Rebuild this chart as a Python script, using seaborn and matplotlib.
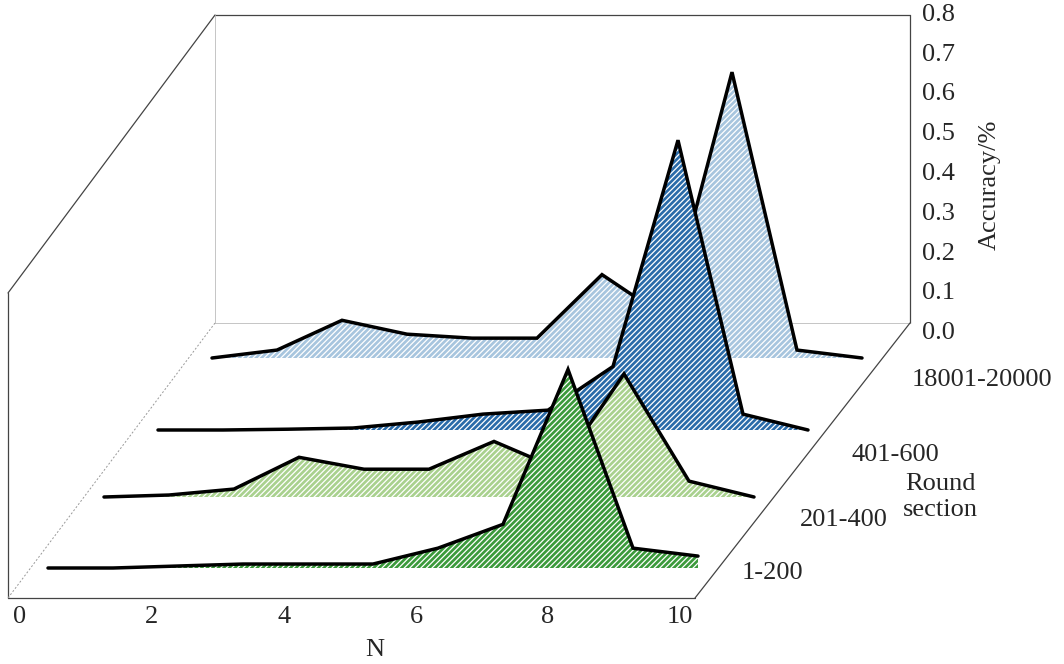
import matplotlib
matplotlib.use("Agg")
import matplotlib.pyplot as plt
import matplotlib.transforms as mtrans
import seaborn as sns
import numpy as np

sns.set_theme(style="white")
plt.rcParams['font.family'] = ['Liberation Serif', 'DejaVu Serif']
plt.rcParams['hatch.linewidth'] = 0.9

N = [0, 1, 2, 3, 4, 5, 6, 7, 8, 9, 10]
sections = ["18001-20000", "401-600", "201-400", "1-200"]
acc_18001 = [0, 0.02, 0.095, 0.06, 0.05, 0.05, 0.21, 0.1, 0.72, 0.02, 0]
acc_401 = [0, 0, 0.002, 0.005, 0.02, 0.04, 0.05, 0.16, 0.73, 0.04, 0]
acc_201 = [0, 0.005, 0.02, 0.1, 0.07, 0.07, 0.14, 0.07, 0.31, 0.04, 0]
acc_1 = [0, 0, 0.005, 0.01, 0.01, 0.01, 0.05, 0.11, 0.5, 0.05, 0.03]
series = [acc_18001, acc_401, acc_201, acc_1]
colors = ["#a7c5de", "#2a6ba9", "#a9d18e", "#3b9a3b"]
xticks = [0, 2, 4, 6, 8, 10]
yticks = [0.0, 0.1, 0.2, 0.3, 0.4, 0.5, 0.6, 0.7, 0.8]

fig = plt.figure(figsize=(10.64, 6.64), dpi=100)
ax = fig.add_axes([0, 0, 1, 1])
ax.set_xlim(0, 1064)
ax.set_ylim(664, 0)
ax.axis("off")

# frame
k = dict(color="#444444", lw=0.9)
ax.plot([8, 8], [293, 598], **k)
ax.plot([8, 215], [293, 15], **k)
ax.plot([215, 910], [15, 15], **k)
ax.plot([910, 910], [15, 323], **k)
ax.plot([215, 215], [15, 323], color="#bbbbbb", lw=0.6)
ax.plot([215, 910], [323, 323], color="#bbbbbb", lw=0.6)
ax.plot([8, 695], [598, 598], **k)
ax.plot([695, 910], [598, 323], **k)
ax.plot([8, 215], [598, 323], color="#999999", lw=0.7, ls=(0, (2, 2)))

offsets = [(212, 358), (158, 430), (104, 497), (48, 568)]
xs = np.array(N, dtype=float)
for i, (vals, col, (x0, base)) in enumerate(zip(series, colors, offsets)):
    tr = mtrans.Affine2D().scale(65, -397).translate(x0, base) + ax.transData
    ax.fill_between(xs, 0, vals, transform=tr, facecolor=col, edgecolor="white",
                    hatch="//////", lw=0, zorder=2 + 2 * i)
    ax.plot(xs, vals, transform=tr, color="black", lw=2.5, zorder=3 + 2 * i,
            solid_joinstyle="miter")

fs = 19
for t in xticks:
    ax.text(20 + 66 * t, 617, str(t), ha="center", va="center", fontsize=fs)
ax.text(375, 650, "N", ha="center", va="center", fontsize=fs)
for v in yticks:
    ax.text(922, 333 - v / 0.8 * 318, f"{v:.1f}", ha="left", va="center", fontsize=fs)
ax.text(990, 185, "Accuracy/%", rotation=90, ha="center", va="center", fontsize=fs)
ax.text(912, 380, "18001-20000", ha="left", va="center", fontsize=fs)
ax.text(852, 455, "401-600", ha="left", va="center", fontsize=fs)
ax.text(800, 520, "201-400", ha="left", va="center", fontsize=fs)
ax.text(742, 573, "1-200", ha="left", va="center", fontsize=fs)
ax.text(940, 497, "Round\nsection", ha="center", va="center", fontsize=fs, linespacing=1.2)

fig.savefig("out.png", dpi=100)
